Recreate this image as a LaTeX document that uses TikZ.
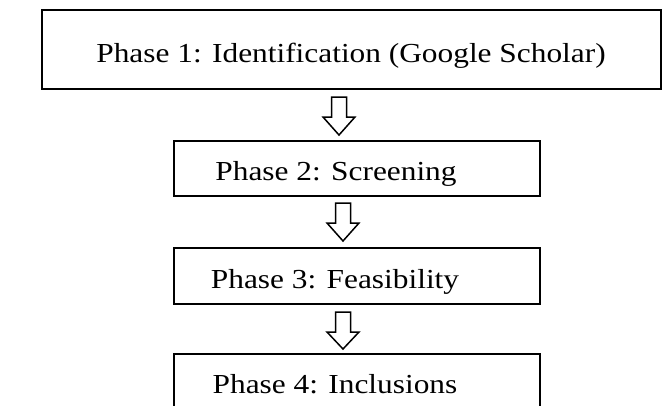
\documentclass[tikz,border=0pt]{standalone}
\usepackage{fontspec}
\setmainfont{Liberation Serif}
\begin{document}
\begin{tikzpicture}[x=1pt,y=-1pt,
  phasebox/.style={draw,line width=2pt},
  phasetext/.style={inner sep=0pt,anchor=base,font=\fontsize{27.5}{30}\selectfont},
  hollowarrow/.style={draw,line width=1.5pt,fill=white,line join=miter}]
\useasboundingbox (0,0) rectangle (665,405);
% boxes
\draw[phasebox] (42,10) rectangle (661,89);
\draw[phasebox] (174,141) rectangle (540,196);
\draw[phasebox] (174,248) rectangle (540,304);
\draw[phasebox] (174,354) rectangle (540,420);
% texts
\node[phasetext] (t1) at (351,62) {\scalebox{1.14}[1]{Phase 1: Identification (Google Scholar)}};
\begin{scope}
\clip (174,141) rectangle (540,185);
\node[phasetext] (t2) at (336,180) {\scalebox{1.14}[1]{Phase 2: Screening}};
\end{scope}
\node[phasetext] (t3) at (335,288) {\scalebox{1.14}[1]{Phase 3: Feasibility}};
\node[phasetext] (t4) at (335,393) {\scalebox{1.14}[1]{Phase 4: Inclusions}};
% arrows
\draw[hollowarrow] (331.5,97) -- (346.5,97) -- (346.5,117) -- (355,117) -- (339,135) -- (323,117) -- (331.5,117) -- cycle;
\draw[hollowarrow] (335.5,203) -- (350.5,203) -- (350.5,223) -- (359,223) -- (343,241) -- (327,223) -- (335.5,223) -- cycle;
\draw[hollowarrow] (335.5,312) -- (350.5,312) -- (350.5,332) -- (359,332) -- (343,349) -- (327,332) -- (335.5,332) -- cycle;
\end{tikzpicture}
\end{document}
